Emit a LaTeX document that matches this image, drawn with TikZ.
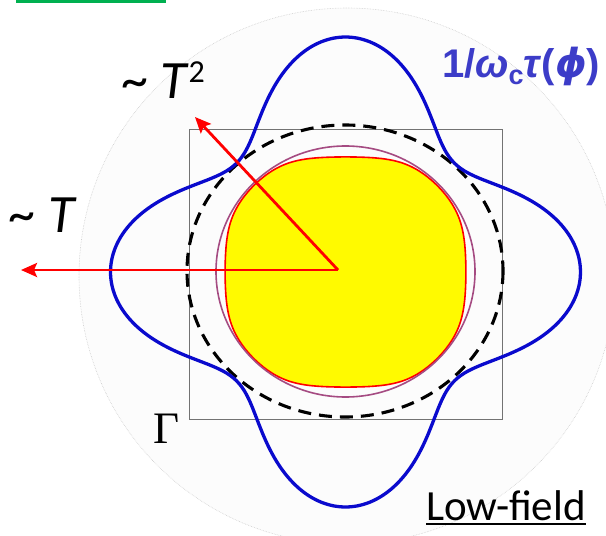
\documentclass[tikz,border=0pt]{standalone}
\usepackage{fontspec}
\usetikzlibrary{arrows.meta}
\newfontfamily\calib{Carlito}
\newfontfamily\arialf{Liberation Sans}
\newfontfamily\dejaf{DejaVu Sans}
\newfontfamily\timesf{Liberation Serif}
\definecolor{pgreen}{RGB}{0,176,80}
\definecolor{cblue}{RGB}{10,10,205}
\definecolor{lblue}{RGB}{60,60,200}
\definecolor{mauve}{RGB}{165,75,130}
\definecolor{fsyellow}{RGB}{255,250,0}
\tikzset{
  declare function={
    fsr(\t) = 120*pow( pow(sqrt(pow(0.9375*cos(\t),2)+pow(0.9677*sin(\t),2)),20)
                      + pow(0.9796*abs(cos(\t)),20) + pow(1.0300*abs(sin(\t)),20), -0.05);
  },
  faint/.style={draw=gray!40, densely dotted, line width=0.6pt, fill=gray!2},
  bzone/.style={draw=gray!90!black, line width=0.9pt},
  fermi/.style={draw=red, line width=1.6pt, fill=fsyellow, line join=round},
  circ/.style={draw=mauve, line width=1.6pt},
  dashcirc/.style={draw=black, line width=3.1pt, dash pattern=on 13pt off 8pt},
  scatcurve/.style={draw=cblue, line width=3.3pt},
  redarrow/.style={draw=red, line width=2.8pt, -{Stealth[length=16pt, width=14pt, inset=3pt]}},
  lbl/.style={inner sep=0pt, outer sep=0pt}
}
\begin{document}
\begin{tikzpicture}[x=1pt, y=-1pt]
\useasboundingbox (0,0) rectangle (606,536);
% faint background disk
\draw[faint] (347,276) circle[radius=268];
% green bar
\fill[pgreen] (16,0) rectangle (166,3);
% Brillouin zone square
\draw[bzone] (189,129) rectangle (502,419);
% yellow Fermi surface
\draw[fermi] plot[domain=0:359, samples=360]
  ({345.5+fsr(\x)*cos(\x)}, {272+fsr(\x)*sin(\x)}) -- cycle;
% purple circle
\draw[circ] (345.5,271.5) ellipse[x radius=129.5, y radius=125.5];
% dashed circle
\draw[dashcirc] (345,271) ellipse[x radius=158, y radius=146];
% scattering curve
\draw[scatcurve] plot[domain=0:360, samples=241, smooth cycle]
  ({345.5+(194.5+40.5*cos(4*\x))*cos(\x)}, {272+(194.5+40.5*cos(4*\x))*sin(\x)});
% arrows
\coordinate (o) at (338,270);
\coordinate (tipT) at (21,270);
\coordinate (tipTT) at (195,117);
\draw[redarrow] (o) -- (tipT);
\draw[redarrow] (o) -- (tipTT);
% labels
\node[lbl, anchor=base west] (lT2) at (121,98)
  {\calib\fontsize{54}{60}\selectfont \textasciitilde\ \textit{T}\raisebox{16pt}{\fontsize{32}{32}\selectfont 2}};
\node[lbl, anchor=base west] (lT) at (9,232)
  {\calib\fontsize{54}{60}\selectfont \textasciitilde\ \textit{T}};
\node[lbl, anchor=base west, text=lblue] (ltau) at (442,77)
  {\arialf\bfseries\fontsize{40}{44}\selectfont 1/\textit{ω}\raisebox{-7pt}{\fontsize{27}{27}\selectfont c}\textit{τ}(\textit{\dejaf ϕ})};
\node[lbl, anchor=base west] (lGamma) at (153,443)
  {\timesf\fontsize{45}{45}\selectfont Γ};
\node[lbl, anchor=base west] (llow) at (426,520)
  {\calib\fontsize{43}{46}\selectfont Low-field};
\draw[line width=2pt] ([yshift=-4pt]llow.base west) -- ([yshift=-4pt]llow.base east);
\end{tikzpicture}
\end{document}
